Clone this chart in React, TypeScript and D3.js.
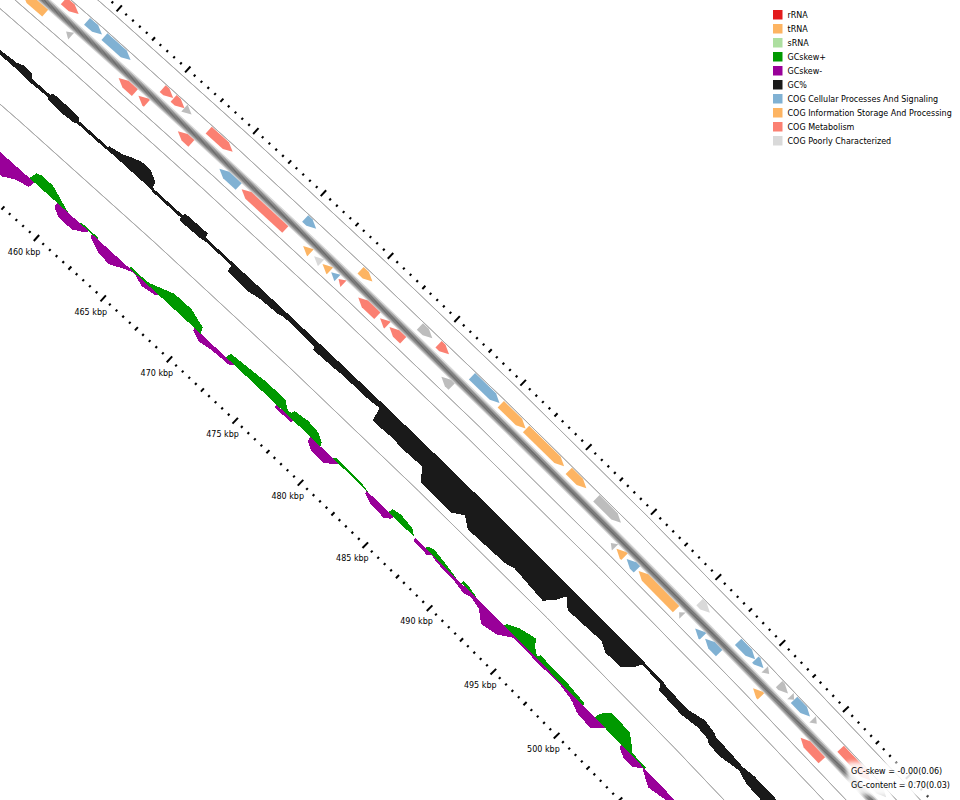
import * as d3 from 'd3';

// Genome position (kbp) -> angle, radius in px above the labelled tick ring
const genomeKbp = 3951;
const tickRadius = 11319;
const centerX = -7524.7;
const centerY = 8661.1;

const outerTickRing = 226.5;
const ringLines = [218.8, 201.2, 164.5, 148.2, 76];
const backboneRing = 183;
const backboneShades = ['#d4d4d4', '#a8a8a8', '#858585', '#6e6e6e', '#666666', '#727272', '#8c8c8c', '#ababab', '#d8d8d8'];
const forwardRing = 195.5;
const reverseRing = 174;
const gcBase = 114;
const skewBase = 40;

const tickLabels = [460, 465, 470, 475, 480, 485, 490, 495, 500];

const colors: Record<string, string> = {
  rrna: '#e31a1c',
  trna: '#fdb462',
  srna: '#addfa0',
  plus: '#009900',
  minus: '#990099',
  gc: '#1a1a1a',
  cell: '#80b1d3',
  info: '#fdb462',
  meta: '#fb8072',
  poor: '#d9d9d9',
  none: '#bdbdbd',
};

const legendNames = ['rRNA', 'tRNA', 'sRNA', 'GCskew+', 'GCskew-', 'GC%', 'COG Cellular Processes And Signaling', 'COG Information Storage And Processing', 'COG Metabolism', 'COG Poorly Characterized'];
const legendKeys = ['rrna', 'trna', 'srna', 'plus', 'minus', 'gc', 'cell', 'info', 'meta', 'poor'];

// [start kbp, end kbp, class]
const forwardGenes: [number, number, string][] = [
  [451.9, 452.3, 'none'], [452.46, 453.54, 'meta'], [454.15, 455.24, 'cell'], [455.42, 457.33, 'cell'],
  [459.68, 460.45, 'meta'], [460.48, 461.28, 'meta'], [461.27, 461.8, 'none'], [463.06, 464.83, 'meta'],
  [470.21, 471.03, 'cell'], [474.35, 475.24, 'info'], [478.81, 479.75, 'none'], [480.22, 481.01, 'meta'],
  [482.75, 484.84, 'cell'], [484.94, 486.83, 'info'], [486.87, 489.78, 'info'], [490.14, 491.49, 'info'],
  [492.26, 494.16, 'none'], [500.26, 501.07, 'poor'], [503.28, 504.61, 'cell'], [504.63, 505.27, 'cell'],
  [505.37, 505.72, 'none'], [506.5, 507.2, 'none'], [507.4, 507.68, 'none'], [507.68, 508.94, 'cell'],
  [509.15, 509.48, 'none'], [511.37, 513.73, 'meta'], [514.0, 515.0, 'poor'],
];

const reverseGenes: [number, number, string][] = [
  [450.5, 452.14, 'info'], [453.66, 454.03, 'none'], [457.5, 458.69, 'meta'], [458.95, 459.57, 'meta'],
  [461.85, 462.85, 'meta'], [464.92, 466.35, 'cell'], [466.57, 469.82, 'meta'], [471.15, 471.7, 'info'],
  [471.97, 472.5, 'poor'], [472.6, 473.15, 'info'], [473.25, 473.72, 'cell'], [473.8, 474.17, 'meta'],
  [475.28, 476.72, 'meta'], [476.92, 477.48, 'meta'], [477.63, 478.67, 'meta'], [481.56, 482.34, 'none'],
  [494.55, 494.88, 'none'], [494.99, 495.61, 'info'], [495.78, 496.58, 'cell'], [496.71, 499.63, 'info'],
  [499.87, 500.13, 'none'], [501.12, 501.73, 'cell'], [501.9, 503.0, 'cell'], [505.67, 506.29, 'info'],
  [509.43, 511.12, 'meta'],
];

// GC% as [kbp, px above baseline, px below baseline]
const gcPoints: [number, number, number][] = [
  [450, 2, 1], [451.9, 3, 1], [452.75, 4, 1], [453.2, 7, 1], [453.8, 6, 2], [454.0, 2, 2], [455.3, 2, 1],
  [455.4, 5, 3], [456.5, 5, 4], [457.35, 4, 3], [457.45, 1.5, 1.5], [459.55, 1.5, 1.5], [459.63, 3, 1],
  [460.5, 6, 1], [461, 10, 1], [461.5, 13, 1], [462.2, 13, 1], [462.8, 7, 1], [462.9, 2, 1],
  [463, 1, 2], [465.15, 1, 2], [465.2, 4, 5], [466.84, 4.5, 4], [466.9, 0, 3], [469, 0, 3], [469.05, 0, 10],
  [470.5, 0, 11], [471.5, 0, 8], [472.7, 0, 7], [473, 0, 5], [475.4, 0, 6], [475.45, 0, 9], [476.9, 0, 8],
  [477.66, 0, 7], [479.2, 0, 7], [480.1, 0, 6], [480.3, 0, 5], [480.5, 0, 19], [481.07, 0, 19], [482, 0, 18],
  [482.7, 0, 19], [484.2, 0, 18], [484.8, 0, 30], [487.15, 0, 30.5], [487.8, 0, 23], [488.44, 0, 31], [491.2, 0, 29],
  [491.8, 0, 26], [494.15, 0, 29], [494.7, 0, 17], [494.9, 0, 9], [495.5, 0, 18], [498, 0, 15.5], [498.6, 0, 21],
  [499.8, 0, 20], [500.3, 0, 10], [500.5, 0, 3], [502, 0, 4], [502.15, -1, 9], [504, -2, 10], [505.1, 3, 7],
  [506, 1, 8], [506.2, -1, 11], [507.2, -1, 11], [508.4, -2, 7], [509.2, 0, 11], [511.3, 0, 12], [514, 0, 12],
];

// GC skew, px on each side of its baseline
const plusPoints: [number, number][] = [
  [457.5, 0], [457.6, 8], [457.9, 10], [458.74, 10], [459.65, 4.5], [460.2, 1], [460.4, 0], [461.2, 0], [461.3, 1.5], [462.5, 1.5], [462.6, 0],
  [464.9, 0], [465, 2], [466.2, 2], [466.4, 3], [466.8, 5.5], [467.75, 11.5], [469, 11.8], [470.15, 6], [470.3, 0],
  [472.2, 0], [472.3, 6], [473.6, 7.7], [474.7, 9.5], [476.2, 10], [476.7, 4], [476.95, 4], [477.05, 8], [477.95, 10], [478.8, 8.6], [479.3, 3.7], [479.4, 0],
  [480.3, 0], [480.5, 3], [481.5, 2.5], [482.5, 2], [483, 0.5], [483.05, 0],
  [484.65, 0], [484.7, 5], [485.25, 6.8], [486.2, 5], [486.55, 1], [486.6, 0], [487.5, 0], [487.55, 3], [487.95, 5], [488.85, 3], [489.8, 0.5], [489.9, 0],
  [490.25, 0], [490.3, 3], [490.55, 3.5], [491.35, 1], [491.4, 0], [493.6, 0], [493.65, 3], [494.3, 9], [495.35, 13.6], [495.7, 6.5], [496.1, 2],
  [496.2, 5], [498.4, 4.5], [499.8, 2.5], [499.85, 0], [500.75, 0], [500.8, 5], [500.9, 8.4], [501.2, 15.4], [502.7, 14.7], [503.4, 5.5], [503.6, 2], [504.7, 2], [504.75, 0], [515, 0],
];

const minusPoints: [number, number][] = [
  [452, 17], [455, 17], [456.3, 17], [456.95, 10.5], [457.8, 7], [457.85, 0],
  [459.55, 0], [459.6, 5], [460.15, 10], [461.13, 10], [461.8, 3.3], [461.9, 0],
  [462.15, 0], [462.2, 3], [463, 9], [463.95, 11], [464.8, 3.7], [465.3, 0.5], [465.45, 1], [466.1, 5], [467, 2.5], [467.1, 0],
  [469.85, 0], [469.9, 3], [470.5, 7], [471.4, 4.5], [472.6, 3.5], [472.85, 0],
  [476.05, 0], [476.1, 3], [477.3, 3], [477.35, 0], [478.65, 0], [478.7, 5], [479.2, 9.5], [480.15, 10], [480.8, 1], [480.85, 0],
  [482.95, 0], [483, 3], [483.65, 7], [484.7, 7.5], [485, 3], [485.05, 0], [486.7, 0], [486.75, 3], [487.85, 4], [488, 0.5],
  [488.45, 2.5], [489.8, 3], [490.75, 5.5], [491.2, 3], [491.95, 5.5], [492.65, 15], [493.65, 11.5], [494.45, 2], [495.3, 2],
  [496.65, 2.5], [497.5, 1.5], [498.2, 2], [499, 4], [499.25, 5], [499.9, 9.5], [501, 10.5], [501.5, 2], [501.55, 0],
  [502.85, 0], [502.9, 3], [503.45, 7.5], [504.2, 7.4], [504.6, 1], [505.6, 10.5], [506.9, 6], [510, 6],
];

const statLines = ['GC-skew = -0.00(0.06)', 'GC-content = 0.70(0.03)'];

const angle = d3.scaleLinear().domain([0, genomeKbp]).range([0, 2 * Math.PI]);
const radius = d3.scaleLinear().domain([0, 1]).range([tickRadius, tickRadius + 1]);

function polar(kbp: number, h: number): [number, number] {
  const a = angle(kbp);
  const r = radius(h);
  return [centerX + r * Math.sin(a), centerY - r * Math.cos(a)];
}

const tickKbp = d3.range(450, 520.01, 0.5);

const ringArc = (h: number) =>
  d3.arc()({
    innerRadius: radius(h),
    outerRadius: radius(h),
    startAngle: angle(445),
    endAngle: angle(525),
  } as d3.DefaultArcObject) as string;

const outline = d3.line().curve(d3.curveLinearClosed);

function genePath(start: number, end: number, h: number, forward: boolean) {
  const half = 4.5;
  const head = Math.min(0.5, end - start);
  const tail = forward ? start : end;
  const tip = forward ? end : start;
  const neck = forward ? end - head : start + head;
  return outline([
    polar(tail, h - half),
    polar(tail, h + half),
    polar(neck, h + half),
    polar(tip, h),
    polar(neck, h - half),
  ]) as string;
}

const gcArea = d3
  .areaRadial<[number, number, number]>()
  .angle(d => angle(d[0]))
  .innerRadius(d => radius(gcBase - d[2]))
  .outerRadius(d => radius(gcBase + d[1]));

const plusArea = d3
  .areaRadial<[number, number]>()
  .angle(d => angle(d[0]))
  .innerRadius(radius(skewBase))
  .outerRadius(d => radius(skewBase + d[1]));

const minusArea = d3
  .areaRadial<[number, number]>()
  .angle(d => angle(d[0]))
  .innerRadius(d => radius(skewBase - d[1]))
  .outerRadius(radius(skewBase));

function Ticks({ ring }: { ring: number }) {
  return (
    <g stroke="#000" strokeLinecap="butt">
      {tickKbp.map(k => {
        const size = k % 5 === 0 ? 4 : k % 2.5 === 0 ? 2.2 : 1.2;
        const [x1, y1] = polar(k, ring - size);
        const [x2, y2] = polar(k, ring + size);
        return <line key={k} x1={x1} y1={y1} x2={x2} y2={y2} strokeWidth={2} />;
      })}
    </g>
  );
}

export default function App() {
  const font = '"DejaVu Sans", sans-serif';
  return (
    <svg
      width={960}
      height={800}
      viewBox="0 0 960 800"
      style={{ position: 'absolute', left: 0, top: 0, background: '#fff' }}
    >
      <defs>
        <filter id="soft" x="-10%" y="-20%" width="120%" height="140%">
          <feGaussianBlur stdDeviation="2" />
        </filter>
      </defs>

      {ringLines.map(h => (
        <path key={h} d={ringArc(h)} fill="none" stroke="#aaaaaa" strokeWidth={1} transform={`translate(${centerX},${centerY})`} />
      ))}

      {backboneShades.map((c, i) => (
        <path
          key={i}
          d={ringArc(backboneRing + i - 4)}
          fill="none"
          stroke={c}
          strokeWidth={1.2}
          transform={`translate(${centerX},${centerY})`}
        />
      ))}

      {forwardGenes.map(([s, e, c], i) => (
        <path key={`f${i}`} d={genePath(s, e, forwardRing, true)} fill={colors[c]} />
      ))}
      {reverseGenes.map(([s, e, c], i) => (
        <path key={`r${i}`} d={genePath(s, e, reverseRing, false)} fill={colors[c]} />
      ))}

      <g transform={`translate(${centerX},${centerY})`} shapeRendering="crispEdges">
        <path d={gcArea(gcPoints) as string} fill={colors.gc} />
        <path d={minusArea(minusPoints) as string} fill={colors.minus} />
        <path d={plusArea(plusPoints) as string} fill={colors.plus} />
      </g>

      <Ticks ring={0} />
      <Ticks ring={outerTickRing} />

      <g fontFamily={font} fontSize={8} fill="#000">
        {tickLabels.map(k => {
          const [x, y] = polar(k, -18.5);
          return (
            <text key={k} x={x} y={y + 3} textAnchor="middle">
              {k} kbp
            </text>
          );
        })}
      </g>

      <g fontFamily={font} fontSize={8} fill="#000">
        {legendNames.map((name, i) => (
          <g key={name} transform={`translate(773,${10 + i * 14})`}>
            <rect width={9.5} height={9.5} fill={colors[legendKeys[i]]} />
            <text x={14.5} y={7.5}>{name}</text>
          </g>
        ))}
      </g>

      <rect x={847} y={762} width={113} height={33} fill="#fff" opacity={0.88} filter="url(#soft)" />
      <g fontFamily={font} fontSize={8} fill="#000">
        {statLines.map((t, i) => (
          <text key={t} x={851} y={774 + i * 14}>{t}</text>
        ))}
      </g>
    </svg>
  );
}
